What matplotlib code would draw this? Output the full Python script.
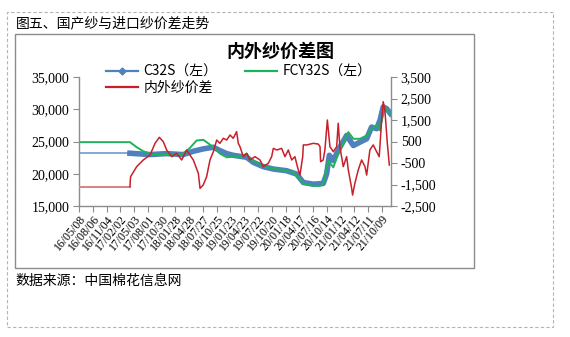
import pandas as pd
import matplotlib
matplotlib.use('Agg')
from matplotlib import pyplot as plt
from matplotlib.lines import Line2D
from matplotlib.patches import Rectangle
from matplotlib.ticker import FuncFormatter, MultipleLocator
import matplotlib.dates as mdates

plt.rcParams['font.family'] = ['Noto Sans CJK SC', 'DejaVu Sans']

# C32S (left axis)
c32s_dates = ['2016-05-08', '2017-04-06', '2017-08-15', '2017-12-02', '2018-03-20', '2018-05-25',
              '2018-07-29', '2018-10-03', '2018-11-15', '2018-12-29', '2019-02-10', '2019-05-09',
              '2019-06-21', '2019-08-25', '2019-10-30', '2020-01-25', '2020-03-30', '2020-05-13',
              '2020-07-17', '2020-09-20', '2020-10-12', '2020-10-30', '2020-11-25', '2020-12-17',
              '2021-01-07', '2021-02-20', '2021-04-05', '2021-05-18', '2021-07-01', '2021-08-02',
              '2021-09-04', '2021-09-26', '2021-10-17', '2021-11-08', '2021-12-04']
c32s_values = [23180, 23180, 22970, 23125, 22970, 23490,
               23855, 24110, 23595, 23125, 22860, 22550,
               21770, 21100, 20730, 20470, 19950, 18645,
               18385, 18490, 19950, 22860, 22030, 23125,
               24110, 25940, 24375, 24900, 25420, 27240,
               26980, 28280, 30365, 30100, 29320]

# FCY32S (left axis)
fcy_dates = ['2016-05-08', '2017-04-06', '2017-05-20', '2017-07-02', '2017-09-05', '2017-12-02',
             '2018-02-05', '2018-03-20', '2018-05-03', '2018-06-16', '2018-07-29', '2018-08-20',
             '2018-10-03', '2018-11-15', '2018-12-29', '2019-02-10', '2019-03-26', '2019-05-09',
             '2019-06-10', '2019-07-13', '2019-08-25', '2019-10-08', '2019-11-21', '2020-01-25',
             '2020-03-08', '2020-04-10', '2020-05-13', '2020-07-17', '2020-08-30', '2020-09-20',
             '2020-10-08', '2020-10-23', '2020-11-25', '2020-12-27', '2021-01-29', '2021-03-03',
             '2021-04-05', '2021-05-18', '2021-07-01', '2021-08-02', '2021-09-04', '2021-09-26',
             '2021-10-07', '2021-10-17', '2021-11-08', '2021-11-30']
fcy_values = [24900, 24900, 24115, 23490, 22970, 22920,
              22920, 23125, 24010, 25155, 25260, 24900,
              24115, 23125, 22550, 22660, 22550, 23125,
              22030, 21770, 21250, 20885, 20730, 20470,
              20210, 19425, 18490, 18125, 18125, 18385,
              20470, 22030, 20990, 23125, 24635, 26460,
              25420, 25420, 25940, 26980, 27500, 26720,
              28280, 30625, 29845, 29320]

# 内外纱价差 (right axis)
diff_dates = ['2016-05-08', '2017-04-06', '2017-04-10', '2017-05-20', '2017-07-02', '2017-08-15',
              '2017-09-17', '2017-10-15', '2017-11-10', '2017-12-02', '2018-01-04', '2018-02-05',
              '2018-03-10', '2018-04-11', '2018-05-25', '2018-06-27', '2018-07-08', '2018-07-29',
              '2018-08-20', '2018-09-11', '2018-10-03', '2018-10-25', '2018-11-15', '2018-12-07',
              '2018-12-29', '2019-01-20', '2019-02-10', '2019-03-04', '2019-03-15', '2019-03-26',
              '2019-04-17', '2019-05-09', '2019-05-30', '2019-07-02', '2019-08-04', '2019-08-25',
              '2019-09-27', '2019-10-19', '2019-10-30', '2019-11-21', '2019-12-23', '2020-01-14',
              '2020-02-05', '2020-02-27', '2020-03-19', '2020-04-10', '2020-04-21', '2020-05-09',
              '2020-05-13', '2020-06-04', '2020-07-17', '2020-08-19', '2020-08-30', '2020-09-03',
              '2020-09-20', '2020-10-01', '2020-10-17', '2020-11-03', '2020-11-25', '2020-12-17',
              '2020-12-27', '2021-01-07', '2021-01-29', '2021-02-20', '2021-03-03', '2021-03-25',
              '2021-03-31', '2021-04-15', '2021-05-07', '2021-05-29', '2021-06-20', '2021-07-01',
              '2021-07-22', '2021-08-13', '2021-09-04', '2021-09-21', '2021-10-07', '2021-10-17',
              '2021-10-28', '2021-11-13', '2021-11-26']
diff_values = [-1600, -1600, -1140, -670, -360, -130,
               415, 695, 490, 105, -205, -50,
               -360, 105, -360, -980, -1680, -1520,
               -1140, -360, 25, 570, 415, 650,
               570, 800, 650, 960, 415, 260,
               -205, -50, -360, -205, -360, -670,
               -515, -205, 180, 105, 180, -205,
               105, -360, -205, -825, -1060, -205,
               340, 340, 415, 380, 260, -440,
               -360, 105, 1500, 260, 25, 260,
               1345, 260, -670, -205, -825, -1680,
               -1990, -1445, -825, -360, -670, -1060,
               105, 340, 25, -205, 1500, 2350,
               1965, 415, -595]

c32s_dates = pd.to_datetime(c32s_dates)
fcy_dates = pd.to_datetime(fcy_dates)
diff_dates = pd.to_datetime(diff_dates)

blue = '#4f81bd'
green = '#1fb25a'
red = '#c8202a'
grey = '#8c8c8c'

W, H = 570, 337
fig = plt.figure(figsize=(W / 100, H / 100), dpi=100)

# frames
fig.add_artist(Rectangle((7 / W, 1 - 327 / H), 546 / W, 315 / H, transform=fig.transFigure,
                         fill=False, ec='#b4b4b4', lw=0.8, ls=(0, (3, 2))))
fig.add_artist(Rectangle((15 / W, 1 - 268 / H), 459 / W, 234 / H, transform=fig.transFigure,
                         fill=False, ec=grey, lw=1.0))

ax = fig.add_axes([79 / W, 1 - 206 / H, 312 / W, 129 / H])
ax2 = ax.twinx()
ax.set_zorder(ax2.get_zorder() - 1)

# flat lead-in segments drawn thin, rest as in the workbook
ax.plot(c32s_dates[:2], c32s_values[:2], color=blue, lw=1.2, alpha=0.8)
ax.plot(c32s_dates[1:], c32s_values[1:], color=blue, lw=4.0, solid_joinstyle='round')
ax.plot(fcy_dates, fcy_values, color=green, lw=1.4)
ax2.plot(diff_dates[:2], diff_values[:2], color='#dd7f85', lw=1.4)
ax2.plot(diff_dates[1:], diff_values[1:], color=red, lw=1.1)

ax.set_ylim(15000, 35000)
ax2.set_ylim(-2500, 3500)
ax.yaxis.set_major_locator(MultipleLocator(5000))
ax2.set_yticks(range(-2500, 3501, 1000))
fmt = FuncFormatter(lambda v, p: f'{v:,.0f}')
ax.yaxis.set_major_formatter(fmt)
ax2.yaxis.set_major_formatter(fmt)

start = pd.Timestamp('2016-05-08')
ax.set_xlim(start, pd.Timestamp('2021-12-07'))
ticks = pd.date_range(start, periods=23, freq='90D')
ax.set_xticks(ticks)
ax.xaxis.set_major_formatter(mdates.DateFormatter('%y/%m/%d'))

for a in (ax, ax2):
    for s in a.spines.values():
        s.set_visible(False)
ax.spines['left'].set_visible(True)
ax.spines['bottom'].set_visible(True)
ax2.spines['right'].set_visible(True)
for s in (ax.spines['left'], ax.spines['bottom'], ax2.spines['right']):
    s.set_color(grey)
    s.set_linewidth(1.0)

tick_font = {'family': 'Liberation Serif', 'size': 10}
ax.tick_params(axis='y', direction='out', length=4, color=grey, pad=3)
ax2.tick_params(axis='y', direction='out', length=4, color=grey, pad=3)
ax.tick_params(axis='x', direction='out', length=4, color=grey, pad=1)
for lab in ax.get_yticklabels() + ax2.get_yticklabels():
    lab.set_fontproperties(tick_font)
for lab in ax.get_xticklabels():
    lab.set_fontproperties({'family': 'Liberation Serif', 'size': 8.5})
    lab.set_rotation(50)
    lab.set_ha('right')
    lab.set_va('top')
    lab.set_rotation_mode('anchor')

handles = [Line2D([], [], color=blue, lw=1.6, marker='D', markersize=3.5),
           Line2D([], [], color=red, lw=1.6),
           Line2D([], [], color=green, lw=1.6)]
labels = ['C32S（左）', '内外纱价差', 'FCY32S（左）']
fig.legend(handles, labels, loc='upper left', bbox_to_anchor=(106 / W, 1 - 65 / H), ncol=2,
           frameon=False, fontsize=10, handlelength=2.3, handletextpad=0.4,
           columnspacing=2.0, labelspacing=0.15, borderpad=0, borderaxespad=0)

fig.text(16 / W, 1 - 23 / H, '图五、国产纱与进口纱价差走势', fontsize=10, va='center')
fig.text(280 / W, 1 - 51 / H, '内外纱价差图', fontsize=13, weight='bold', ha='center', va='center')
fig.text(15 / W, 1 - 281 / H, '数据来源：中国棉花信息网', fontsize=10, va='center')

fig.savefig('out.png', dpi=100)
